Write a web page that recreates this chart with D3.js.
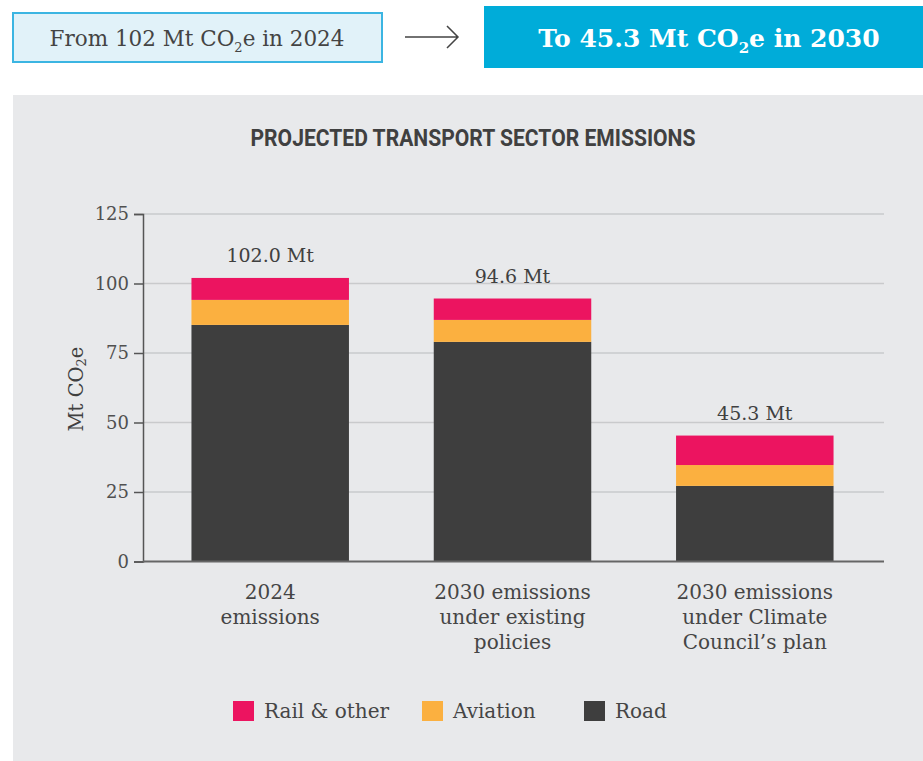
<!DOCTYPE html>
<html>
<head>
<meta charset="utf-8">
<script src="https://cdn.jsdelivr.net/npm/d3@7"></script>
<style>
  body { margin: 0; background: #fff; }
  svg { display: block; }
</style>
</head>
<body>
<svg id="chart"></svg>
<script>
// chart data
var categories = ["2024 emissions", "2030 existing", "2030 plan"];
var categoryLines = [
    ["2024", "emissions"],
    ["2030 emissions", "under existing", "policies"],
    ["2030 emissions", "under Climate", "Council\u2019s plan"]
];
var road = [85.1, 79.0, 27.2];
var aviation = [9.0, 7.9, 7.5];
var rail = [7.9, 7.7, 10.6];
var totals = ["102.0 Mt", "94.6 Mt", "45.3 Mt"];
var seriesNames = ["Road", "Aviation", "Rail & other"];
var legendNames = ["Rail & other", "Aviation", "Road"];
var yTicks = [0, 25, 50, 75, 100, 125];

var colors = { "Road": "#3e3e3e", "Aviation": "#fbb040", "Rail & other": "#ec1460" };
var slab = "'DejaVu Serif', serif";

var width = 923, height = 761;
var svg = d3.select("#chart").attr("width", width).attr("height", height);

// top banner
svg.append("rect").attr("x", 13).attr("y", 13).attr("width", 369).attr("height", 49)
    .attr("fill", "#e1f2f9").attr("stroke", "#3bb5e2").attr("stroke-width", 2);

var fromText = svg.append("text").attr("x", 197).attr("y", 46)
    .attr("text-anchor", "middle").attr("font-family", slab).attr("font-size", 21.5)
    .attr("fill", "#444");
fromText.append("tspan").text("From 102 Mt CO");
fromText.append("tspan").attr("font-size", 13).attr("dy", 6).text("2");
fromText.append("tspan").attr("dy", -6).text("e in 2024");

// arrow
svg.append("path").attr("d", "M405,37 H457 M447,26 L458,37 L447,48")
    .attr("fill", "none").attr("stroke", "#444").attr("stroke-width", 1.5);

svg.append("rect").attr("x", 484).attr("y", 6).attr("width", 439).attr("height", 62)
    .attr("fill", "#00acd9");

var toText = svg.append("text").attr("x", 709).attr("y", 47)
    .attr("text-anchor", "middle").attr("font-family", slab).attr("font-weight", "bold")
    .attr("font-size", 25).attr("fill", "#fff");
toText.append("tspan").text("To 45.3 Mt CO");
toText.append("tspan").attr("font-size", 15).attr("dy", 6).text("2");
toText.append("tspan").attr("dy", -6).text("e in 2030");

// grey panel
svg.append("rect").attr("x", 13).attr("y", 95).attr("width", 910).attr("height", 666)
    .attr("fill", "#e8e9eb");

svg.append("text").attr("x", 473).attr("y", 146)
    .attr("text-anchor", "middle").attr("font-family", "Roboto, sans-serif")
    .attr("font-weight", "bold").attr("font-size", 23)
    .attr("textLength", 445).attr("lengthAdjust", "spacingAndGlyphs")
    .attr("fill", "#404040").text("PROJECTED TRANSPORT SECTOR EMISSIONS");

// scales
var x = d3.scaleBand().domain(categories).range([143, 882]).paddingInner(0.35).paddingOuter(0.2);
var y = d3.scaleLinear().domain([0, 125]).range([561.5, 214]);

// gridlines
svg.append("g").selectAll("line").data(yTicks.filter(function (d) { return d > 0; }))
    .enter().append("line")
    .attr("x1", 143).attr("x2", 884)
    .attr("y1", function (d) { return y(d); }).attr("y2", function (d) { return y(d); })
    .attr("stroke", "#c9cacc").attr("stroke-width", 1.5);

// y axis
var yAxis = d3.axisLeft(y).tickValues(yTicks).tickSize(9).tickPadding(5);
var gy = svg.append("g").attr("transform", "translate(143,0)").call(yAxis);
gy.select(".domain").attr("stroke", "#555").attr("stroke-width", 1.5);
gy.selectAll(".tick line").attr("stroke", "#555").attr("stroke-width", 1.5);
gy.selectAll(".tick text").attr("font-family", slab).attr("font-size", 18).attr("fill", "#505050");

var yLabel = svg.append("text").attr("transform", "translate(83,389) rotate(-90)")
    .attr("text-anchor", "middle").attr("font-family", slab).attr("font-size", 19.5).attr("fill", "#404040");
yLabel.append("tspan").text("Mt CO");
yLabel.append("tspan").attr("font-size", 13).attr("dy", 3).text("2");
yLabel.append("tspan").attr("dy", -3).text("e");

// stacked bars
var table = categories.map(function (c, i) {
    return { cat: c, "Road": road[i], "Aviation": aviation[i], "Rail & other": rail[i] };
});
var stacked = d3.stack().keys(seriesNames)(table);

svg.append("g").selectAll("g").data(stacked).enter().append("g")
    .attr("fill", function (d) { return colors[d.key]; })
    .selectAll("rect").data(function (d) { return d; })
    .enter().append("rect")
    .attr("x", function (d) { return x(d.data.cat); })
    .attr("width", x.bandwidth())
    .attr("y", function (d) { return y(d[1]); })
    .attr("height", function (d) { return y(d[0]) - y(d[1]); });

// baseline
svg.append("line").attr("x1", 143).attr("x2", 884).attr("y1", y(0)).attr("y2", y(0))
    .attr("stroke", "#666").attr("stroke-width", 2);

// total labels
svg.append("g").selectAll("text").data(table).enter().append("text")
    .attr("x", function (d) { return x(d.cat) + x.bandwidth() / 2; })
    .attr("y", function (d) { return y(d["Road"] + d["Aviation"] + d["Rail & other"]) - 16; })
    .attr("text-anchor", "middle").attr("font-family", slab).attr("font-size", 19)
    .attr("fill", "#404040")
    .text(function (d, i) { return totals[i]; });

// category labels
var catLabels = svg.append("g").selectAll("text").data(categories).enter().append("text")
    .attr("text-anchor", "middle").attr("font-family", slab).attr("font-size", 20)
    .attr("fill", "#454545");
catLabels.each(function (c, i) {
    var t = d3.select(this);
    categoryLines[i].forEach(function (line, j) {
        t.append("tspan").attr("x", x(c) + x.bandwidth() / 2).attr("y", 599 + j * 25).text(line);
    });
});

// legend
var legendX = [233, 422, 584];
var legend = svg.append("g").selectAll("g").data(legendNames).enter().append("g")
    .attr("transform", function (d, i) { return "translate(" + legendX[i] + ",701)"; });
legend.append("rect").attr("width", 21).attr("height", 20)
    .attr("fill", function (d) { return colors[d]; });
legend.append("text").attr("x", 31).attr("y", 17)
    .attr("font-family", slab).attr("font-size", 20).attr("fill", "#454545")
    .text(function (d) { return d; });
</script>
</body>
</html>
